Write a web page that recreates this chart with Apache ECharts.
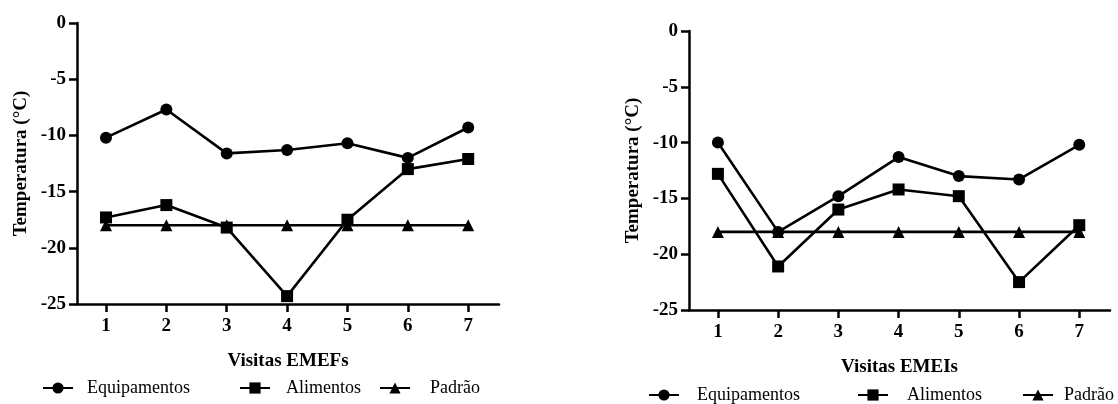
<!DOCTYPE html>
<html>
<head>
<meta charset="utf-8">
<script src="https://cdn.jsdelivr.net/npm/echarts@6/dist/echarts.min.js"></script>
<style>
html,body{margin:0;padding:0;background:#fff;}
#chart{width:1118px;height:404px;}
</style>
</head>
<body>
<div id="chart"></div>
<script>
const categories = [1, 2, 3, 4, 5, 6, 7];
const seriesNames = ['Equipamentos', 'Alimentos', 'Padrão'];
const yTicks = [-25, -20, -15, -10, -5, 0];

const emefEquipamentos = [-10.2, -7.7, -11.6, -11.3, -10.7, -12.0, -9.3];
const emefAlimentos = [-17.3, -16.2, -18.2, -24.3, -17.5, -13.0, -12.1];
const emefPadrao = [-18, -18, -18, -18, -18, -18, -18];

const emeiEquipamentos = [-10.0, -18.0, -14.8, -11.3, -13.0, -13.3, -10.2];
const emeiAlimentos = [-12.8, -21.1, -16.0, -14.2, -14.8, -22.5, -17.4];
const emeiPadrao = [-18, -18, -18, -18, -18, -18, -18];

const font = "'Liberation Serif', 'Times New Roman', serif";
const pair = arr => categories.map((c, i) => [c, arr[i]]);

function xAxis(gridIndex, name) {
  return {
    type: 'value', gridIndex: gridIndex, min: 0.52, max: 7.51,
    name: name, nameLocation: 'middle', nameGap: 48,
    nameTextStyle: {fontFamily: font, fontWeight: 'bold', fontSize: 19, color: '#000'},
    axisLine: {show: true, onZero: false, lineStyle: {color: '#000', width: 2.5}},
    axisTick: {show: true, inside: false, length: 8, lineStyle: {color: '#000', width: 2.5}, customValues: categories},
    axisLabel: {customValues: categories, margin: 13, fontFamily: font, fontWeight: 'bold', fontSize: 19, color: '#000'},
    splitLine: {show: false}
  };
}
function yAxis(gridIndex) {
  return {
    type: 'value', gridIndex: gridIndex, min: yTicks[0], max: yTicks[yTicks.length - 1], interval: 5,
    name: 'Temperatura (°C)', nameLocation: 'middle', nameGap: 46, nameRotate: 90,
    nameTextStyle: {fontFamily: font, fontWeight: 'bold', fontSize: 19, color: '#000'},
    axisLine: {show: true, onZero: false, lineStyle: {color: '#000', width: 2.5}},
    axisTick: {show: true, inside: false, length: 8, lineStyle: {color: '#000', width: 2.5}},
    axisLabel: {margin: 11, fontFamily: font, fontWeight: 'bold', fontSize: 19, color: '#000'},
    splitLine: {show: false}
  };
}
const symbols = ['circle', 'rect', 'triangle'];
const sizes = [12, 12, 12];
function mk(name, idx, data, axisIndex) {
  return {
    name: name, type: 'line', xAxisIndex: axisIndex, yAxisIndex: axisIndex,
    data: pair(data), symbol: symbols[idx], symbolSize: sizes[idx],
    lineStyle: {color: '#000', width: 2.6}, itemStyle: {color: '#000'},
    animation: false, z: 3 - idx
  };
}
function legendItem(name, left, top, size, pad) {
  return {
    left: left, top: top, itemWidth: 30, itemHeight: 14, padding: 0,
    data: [name],
    textStyle: {fontFamily: font, fontSize: size, color: '#000', padding: [0, 0, 0, pad]},
    selectedMode: false
  };
}
const chart = echarts.init(document.getElementById('chart'));
chart.setOption({
  backgroundColor: '#fff',
  animation: false,
  grid: [
    {left: 77, right: 619, top: 23, bottom: 100},
    {left: 689, right: 8, top: 31, bottom: 94}
  ],
  xAxis: [xAxis(0, 'Visitas EMEFs'), xAxis(1, 'Visitas EMEIs')],
  yAxis: [yAxis(0), yAxis(1)],
  legend: [
    legendItem(seriesNames[0], 42, 379, 18, 9),
    legendItem(seriesNames[1], 239, 379, 18, 11),
    legendItem(seriesNames[2], 379, 379, 18, 15),
    legendItem(seriesNames[0], 648, 386, 18, 13),
    legendItem(seriesNames[1], 857, 386, 18, 14),
    legendItem(seriesNames[2], 1022, 386, 18, 6)
  ],
  series: [
    mk('Equipamentos', 0, emefEquipamentos, 0),
    mk('Alimentos', 1, emefAlimentos, 0),
    mk('Padrão', 2, emefPadrao, 0),
    mk('Equipamentos', 0, emeiEquipamentos, 1),
    mk('Alimentos', 1, emeiAlimentos, 1),
    mk('Padrão', 2, emeiPadrao, 1)
  ]
});
</script>
</body>
</html>
